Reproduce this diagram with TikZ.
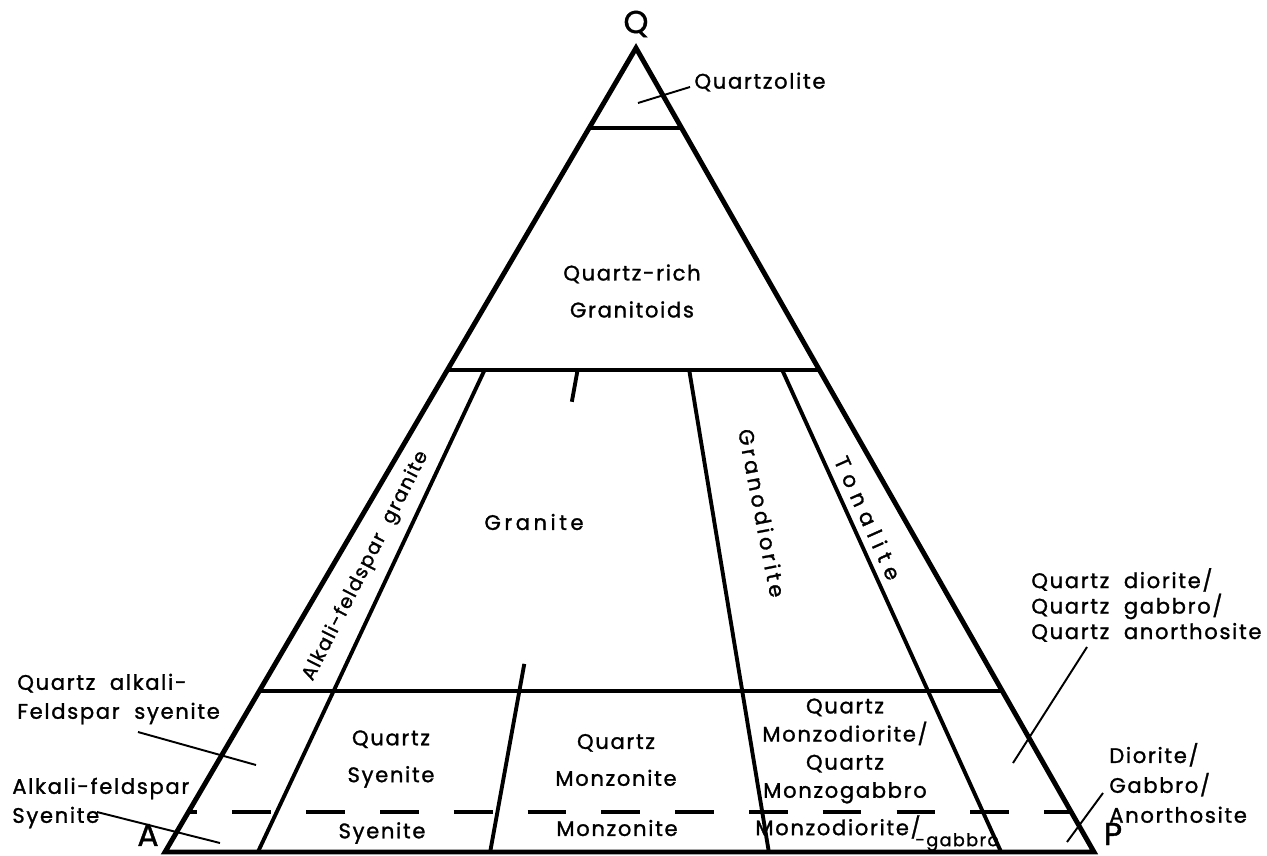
\documentclass[tikz,border=0pt]{standalone}
\usepackage{fontspec}
\setmainfont{Poppins}[LetterSpace=8, FakeBold=1.3]
\usetikzlibrary{calc}
\begin{document}
\begin{tikzpicture}[x=0.02cm,y=-0.02cm,
    edge/.style ={line width=2.8pt},
    divide/.style ={line width=2.2pt},
    leader/.style ={line width=1.1pt},
    fivepct/.style ={line width=2.2pt, dash pattern=on 22pt off 20pt, dash phase=17pt},
    rock/.style ={inner sep=0pt, align=center, font=\fontsize{12}{21}\selectfont},
    corner/.style ={inner sep=0pt, font=\fontsize{18}{22}\selectfont}]
   \useasboundingbox (0,0) rectangle (1267,855);

   % corners of the triangle
   \coordinate (A) at (165,852);
   \coordinate (P) at (1094,852);
   \coordinate (Q) at (636,48);
   \coordinate (b10) at ($(A)!0.10!(P)$);
   \coordinate (b35) at ($(A)!0.35!(P)$);
   \coordinate (b65) at ($(A)!0.65!(P)$);
   \coordinate (b90) at ($(A)!0.90!(P)$);

   \draw[edge] (A) -- (P) -- (Q) -- cycle;

   % Q = 90, 60, 20
   \draw[divide] ($(Q)!0.1!(A)$) -- ($(Q)!0.1!(P)$);
   \draw[divide] ($(Q)!0.4!(A)$) -- ($(Q)!0.4!(P)$);
   \draw[divide] ($(Q)!0.8!(A)$) -- ($(Q)!0.8!(P)$);
   % Q = 5
   \draw[fivepct] ($(Q)!0.95!(A)$) -- ($(Q)!0.95!(P)$);

   % P/(A+P) = 10, 35, 65, 90
   \draw[divide] ($(Q)!0.4!(b10)$) -- (b10);
   \draw[divide] ($(Q)!0.4!(b35)$) -- ($(Q)!0.44!(b35)$);
   \draw[divide] ($(Q)!0.766!(b35)$) -- (b35);
   \draw[divide] ($(Q)!0.4!(b65)$) -- (b65);
   \draw[divide] ($(Q)!0.4!(b90)$) -- (b90);

   \node[corner] (lQ) at (636,24) {Q};
   \node[corner] (lA) at (148,835) {A};
   \node[corner] (lP) at (1113,834) {P};

   \node[rock] (qzl) at (760,82) {Quartzolite};
   \node[rock] (qrg) at (632,291) {Quartz-rich\\Granitoids};
   \node[rock] (gra) at (534,522) {G\,r\,a\,n\,i\,t\,e};
   \node[rock, rotate=63, font=\fontsize{11}{13}\selectfont] (afg) at (366,566) {Alkali-feldspar\hspace{0.7em}granite};
   \node[rock, rotate=-79] (grd) at (762,513) {G\,r\,a\,n\,o\,d\,i\,o\,r\,i\,t\,e};
   \node[rock, rotate=-66] (ton) at (868,518) {T\,\,o\,\,n\,\,a\,\,l\,\,i\,\,t\,\,e};
   \node[rock] (qsy) at (391,759) {Quartz\\Syenite};
   \node[rock] (qmz) at (616,760) {Quartz\\Monzonite};
   \node[rock, font=\fontsize{12}{16}\selectfont] (qmd) at (845,751)
      {Quartz\\Monzodiorite/\\Quartz\\Monzogabbro};
   \node[rock] (sye) at (382,833) {Syenite};
   \node[rock] (mzn) at (617,828) {Monzonite};
   \node[rock] (mzd) at (838,827) {Monzodiorite/};
   \node[rock, font=\fontsize{10}{12}\selectfont] (gab) at (957,842) {-gabbro};
   \node[rock, anchor=west, align=left, font=\fontsize{12}{14.5}\selectfont] (qdi) at (1031,605)
      {Quartz\ \ diorite/\\Quartz\ \ gabbro/\\Quartz\ \ anorthosite};
   \node[rock, anchor=west, align=left, font=\fontsize{12}{17}\selectfont] (dio) at (1109,783)
      {Diorite/\\Gabbro/\\Anorthosite};
   \node[rock, anchor=west, align=left, font=\fontsize{12}{16.5}\selectfont] (qaf) at (17,699)
      {Quartz\ \ alkali-\\Feldspar\ \ syenite};
   \node[rock, anchor=west, align=left, font=\fontsize{12}{16.5}\selectfont] (afs) at (12,803)
      {Alkali-feldspar\\Syenite};

   % leaders
   \draw[leader] (638,103) -- (690,87);
   \draw[leader] (1087,647) -- (1013,763);
   \draw[leader] (1103,793) -- (1067,842);
   \draw[leader] (138,732) -- (256,765);
   \draw[leader] (97,812) -- (220,843);
\end{tikzpicture}
\end{document}
